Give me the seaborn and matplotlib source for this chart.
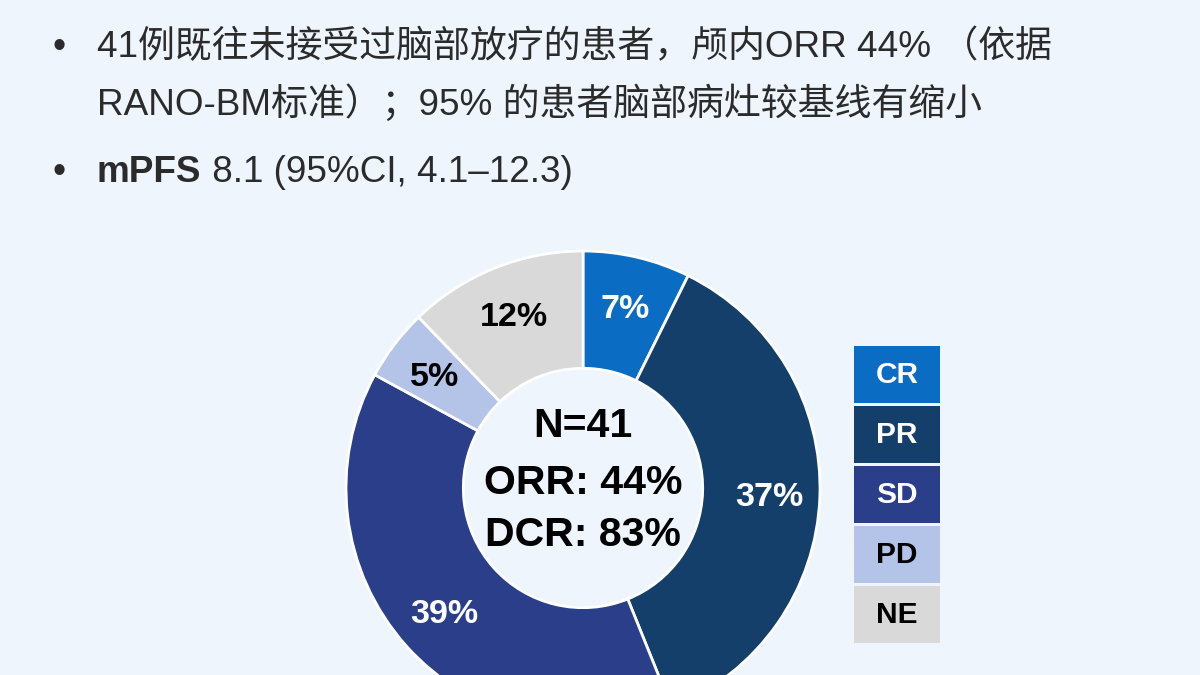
import matplotlib
matplotlib.use('Agg')
import matplotlib.pyplot as plt
from matplotlib.patches import Rectangle
import numpy as np
import seaborn as sns

# response categories, patient counts (N=41) and printed percentages
categories = ['CR', 'PR', 'SD', 'PD', 'NE']
counts = [3, 15, 16, 2, 5]
pct_labels = ['7%', '37%', '39%', '5%', '12%']
colors = ['#0b6cc3', '#143f6a', '#2a3e89', '#b4c3e8', '#d9d9d9']
label_colors = ['white', 'white', 'white', 'black', 'black']

center_lines = ['N=41', 'ORR: 44%', 'DCR: 83%']
bullets = ['41例既往未接受过脑部放疗的患者，颅内ORR 44% （依据',
           'RANO-BM标准）；95% 的患者脑部病灶较基线有缩小']
pfs_bold = 'mPFS'
pfs_rest = ' 8.1 (95%CI, 4.1–12.3)'

BG = '#eef5fc'
FONTS = ['Liberation Sans', 'Noto Sans CJK SC', 'DejaVu Sans']

sns.set_theme(style='white')
plt.rcParams['font.family'] = FONTS

W, H = 1200, 675
fig = plt.figure(figsize=(12, 6.75), dpi=100, facecolor=BG)


def fx(px):
    return px / W


def fy(py):
    return 1 - py / H


# header bullets
txt_color = '#2b2b2b'
fs_head = 26.6
fig.text(fx(53), fy(48), '•', fontsize=27, color=txt_color, va='center')
fig.text(fx(97), fy(47), bullets[0], fontsize=fs_head, color=txt_color, va='center')
fig.text(fx(97), fy(104), bullets[1], fontsize=fs_head, color=txt_color, va='center')
fig.text(fx(53), fy(173), '•', fontsize=27, color=txt_color, va='center')
t = fig.text(fx(97), fy(172), pfs_bold, fontsize=fs_head, color=txt_color,
             va='center', fontweight='bold')

# donut: centre (583, 488) px, radius 237 px
cx, cy, r = 583, 488, 237
ax = fig.add_axes([fx(cx - r), fy(cy + r), 2 * r / W, 2 * r / H])
ax.set_facecolor('none')
wedges, _ = ax.pie(counts, colors=colors, startangle=90, counterclock=False,
                   radius=1, wedgeprops=dict(width=0.495, edgecolor='white',
                                             linewidth=2.0))
ax.set_xlim(-1, 1)
ax.set_ylim(-1, 1)
ax.set_aspect('equal')
ax.axis('off')

ax.annotate(pfs_rest, xy=(1, 0.5), xycoords=t, fontsize=fs_head,
            color=txt_color, va='center', ha='left', annotation_clip=False)

for w, lab, lc in zip(wedges, pct_labels, label_colors):
    mid = np.deg2rad((w.theta1 + w.theta2) / 2)
    ax.text(0.785 * np.cos(mid), 0.785 * np.sin(mid) - 0.01, lab, ha='center',
            va='center', fontsize=24.5, fontweight='bold', color=lc)

for line, yo in zip(center_lines, [0.262, 0.02, -0.2]):
    ax.text(0, yo, line, ha='center', va='center',
            fontsize=29.5, fontweight='bold', color='black')

# legend boxes
for i, (cat, col, lc) in enumerate(zip(categories, colors, label_colors)):
    top = 346 + i * 60
    fig.patches.append(Rectangle((fx(854), fy(top + 57)), fx(86), 57 / H,
                                 transform=fig.transFigure, facecolor=col,
                                 edgecolor='none'))
    fig.text(fx(897), fy(top + 29), cat, ha='center', va='center',
             fontsize=21.5, fontweight='bold', color=lc)

fig.savefig('out.png', dpi=100, facecolor=BG)
